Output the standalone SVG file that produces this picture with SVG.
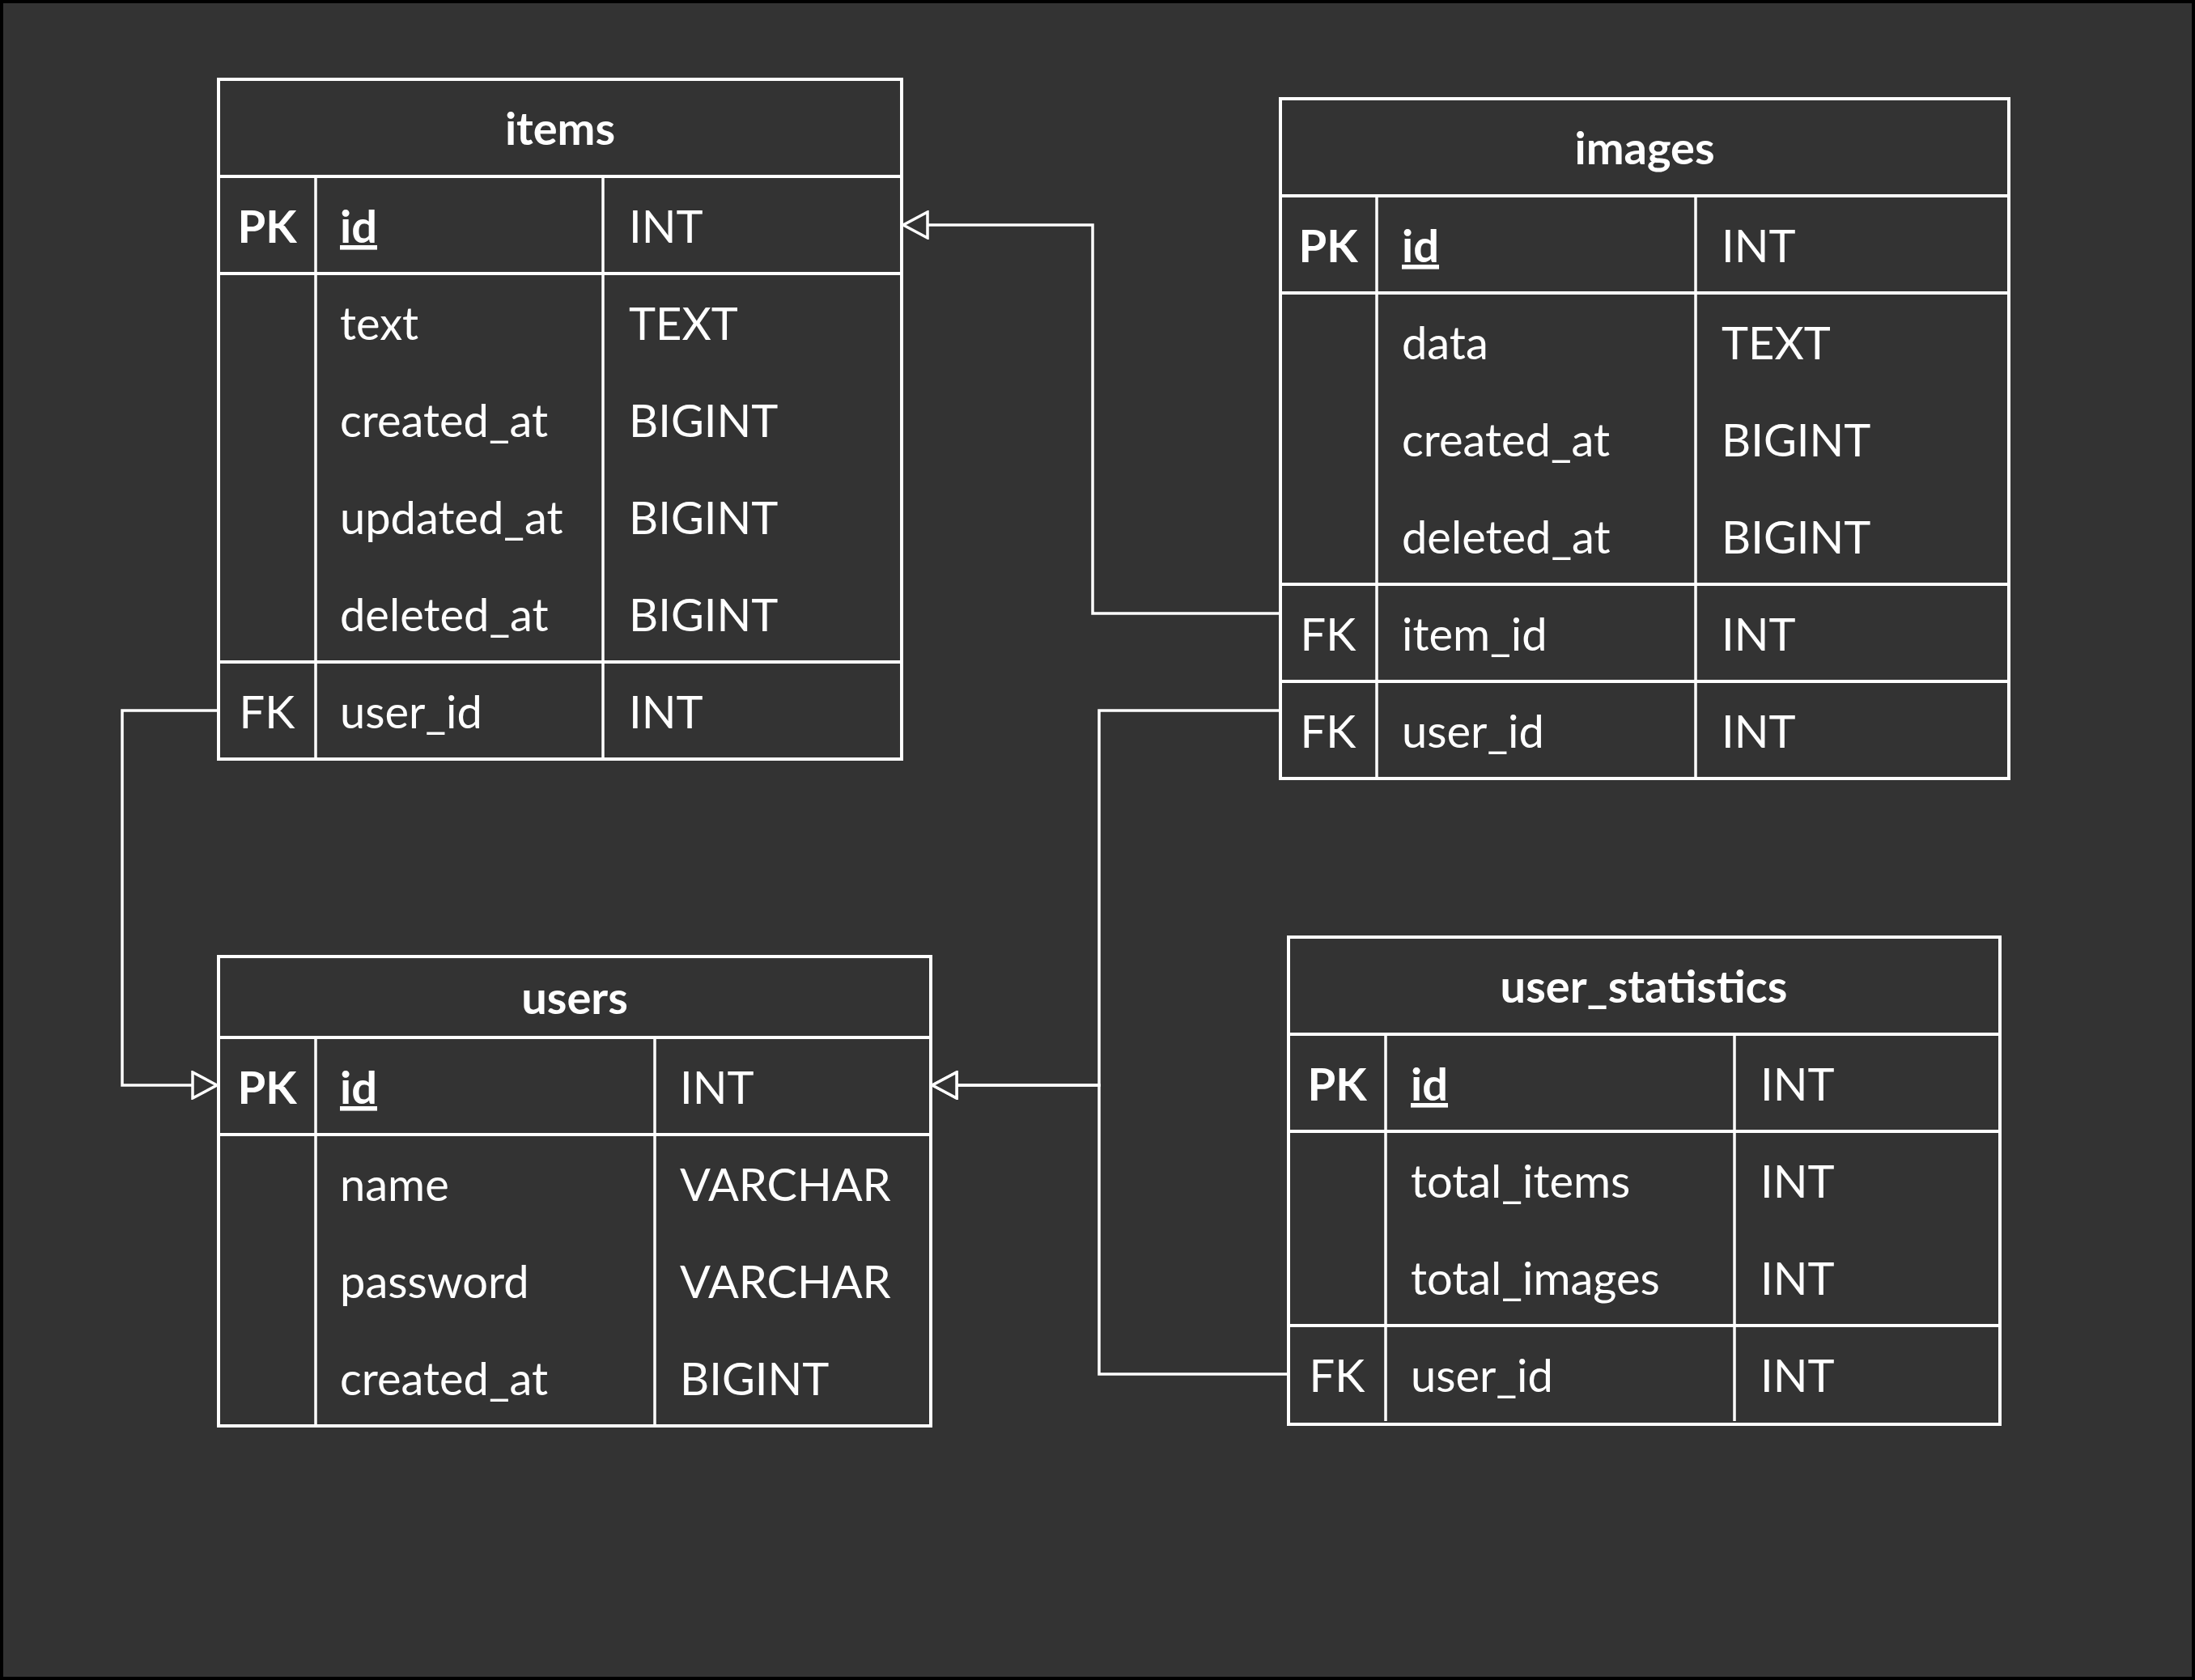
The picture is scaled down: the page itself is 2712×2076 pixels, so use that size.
<svg xmlns="http://www.w3.org/2000/svg" width="2712" height="2076" viewBox="0 0 2712 2076">
<defs>
<style>
.bd{fill:#333333;stroke:#ffffff;stroke-width:4}
.hl{stroke:#ffffff;stroke-width:4;fill:none}
.vl{stroke:#ffffff;stroke-width:3.5;fill:none}
.t{font-family:Lato,"Open Sans",sans-serif;font-size:56px;fill:#ffffff}
.b{font-weight:bold}
.c{text-anchor:middle}
.u{text-decoration:underline}
.cn{stroke:#ffffff;stroke-width:3.5;fill:none}
</style>
<marker id="arr" markerUnits="userSpaceOnUse" viewBox="0 0 36 36" markerWidth="36" markerHeight="36" refX="32" refY="18" orient="auto">
<polygon points="32,18 2,2 2,34" fill="#333333" stroke="#ffffff" stroke-width="3.5"/>
</marker>
</defs>
<rect x="0" y="0" width="2712" height="2076" fill="#000000"/>
<rect x="4" y="4" width="2704" height="2068" fill="#333333"/>

<g id="connectors">
<path class="cn" d="M1582,758 H1350 V278 H1116" marker-end="url(#arr)"/>
<path class="cn" d="M270,878 H151 V1341 H268" marker-end="url(#arr)"/>
<path class="cn" d="M1582,878 H1358 V1341 H1152" marker-end="url(#arr)"/>
<path class="cn" d="M1592,1698 H1358 V1341 H1152" marker-end="url(#arr)"/>
</g>

<g id="items">
<rect class="bd" x="270" y="98" width="844" height="840"/>
<line class="hl" x1="270" y1="218" x2="1114" y2="218"/>
<line class="hl" x1="270" y1="338" x2="1114" y2="338"/>
<line class="hl" x1="270" y1="818" x2="1114" y2="818"/>
<line class="vl" x1="390" y1="218" x2="390" y2="936"/>
<line class="vl" x1="745" y1="218" x2="745" y2="936"/>
<text class="t b c" x="692" y="179">items</text>
<text class="t b c" x="330" y="300">PK</text>
<text class="t b u" x="420" y="300">id</text>
<text class="t" x="777" y="300">INT</text>
<text class="t" x="420" y="420">text</text>
<text class="t" x="777" y="420">TEXT</text>
<text class="t" x="420" y="540">created_at</text>
<text class="t" x="777" y="540">BIGINT</text>
<text class="t" x="420" y="660">updated_at</text>
<text class="t" x="777" y="660">BIGINT</text>
<text class="t" x="420" y="780">deleted_at</text>
<text class="t" x="777" y="780">BIGINT</text>
<text class="t c" x="330" y="900">FK</text>
<text class="t" x="420" y="900">user_id</text>
<text class="t" x="777" y="900">INT</text>
</g>

<g id="images">
<rect class="bd" x="1582" y="122" width="900" height="840"/>
<line class="hl" x1="1582" y1="242" x2="2482" y2="242"/>
<line class="hl" x1="1582" y1="362" x2="2482" y2="362"/>
<line class="hl" x1="1582" y1="722" x2="2482" y2="722"/>
<line class="hl" x1="1582" y1="842" x2="2482" y2="842"/>
<line class="vl" x1="1701" y1="242" x2="1701" y2="960"/>
<line class="vl" x1="2095" y1="242" x2="2095" y2="960"/>
<text class="t b c" x="2032" y="203">images</text>
<text class="t b c" x="1641" y="324">PK</text>
<text class="t b u" x="1732" y="324">id</text>
<text class="t" x="2127" y="324">INT</text>
<text class="t" x="1732" y="444">data</text>
<text class="t" x="2127" y="444">TEXT</text>
<text class="t" x="1732" y="564">created_at</text>
<text class="t" x="2127" y="564">BIGINT</text>
<text class="t" x="1732" y="684">deleted_at</text>
<text class="t" x="2127" y="684">BIGINT</text>
<text class="t c" x="1641" y="804">FK</text>
<text class="t" x="1732" y="804">item_id</text>
<text class="t" x="2127" y="804">INT</text>
<text class="t c" x="1641" y="924">FK</text>
<text class="t" x="1732" y="924">user_id</text>
<text class="t" x="2127" y="924">INT</text>
</g>

<g id="users">
<rect class="bd" x="270" y="1182" width="880" height="580"/>
<line class="hl" x1="270" y1="1282" x2="1150" y2="1282"/>
<line class="hl" x1="270" y1="1402" x2="1150" y2="1402"/>
<line class="vl" x1="390" y1="1282" x2="390" y2="1760"/>
<line class="vl" x1="809" y1="1282" x2="809" y2="1760"/>
<text class="t b c" x="710" y="1253">users</text>
<text class="t b c" x="330" y="1364">PK</text>
<text class="t b u" x="420" y="1364">id</text>
<text class="t" x="840" y="1364">INT</text>
<text class="t" x="420" y="1484">name</text>
<text class="t" x="840" y="1484">VARCHAR</text>
<text class="t" x="420" y="1604">password</text>
<text class="t" x="840" y="1604">VARCHAR</text>
<text class="t" x="420" y="1724">created_at</text>
<text class="t" x="840" y="1724">BIGINT</text>
</g>

<g id="user_statistics">
<rect class="bd" x="1592" y="1158" width="879" height="602"/>
<line class="hl" x1="1592" y1="1278" x2="2471" y2="1278"/>
<line class="hl" x1="1592" y1="1398" x2="2471" y2="1398"/>
<line class="hl" x1="1592" y1="1638" x2="2471" y2="1638"/>
<line class="vl" x1="1712" y1="1278" x2="1712" y2="1756"/>
<line class="vl" x1="2143" y1="1278" x2="2143" y2="1756"/>
<text class="t b c" x="2031" y="1239">user_statistics</text>
<text class="t b c" x="1652" y="1360">PK</text>
<text class="t b u" x="1743" y="1360">id</text>
<text class="t" x="2175" y="1360">INT</text>
<text class="t" x="1743" y="1480">total_items</text>
<text class="t" x="2175" y="1480">INT</text>
<text class="t" x="1743" y="1600">total_images</text>
<text class="t" x="2175" y="1600">INT</text>
<text class="t c" x="1652" y="1720">FK</text>
<text class="t" x="1743" y="1720">user_id</text>
<text class="t" x="2175" y="1720">INT</text>
</g>
</svg>
